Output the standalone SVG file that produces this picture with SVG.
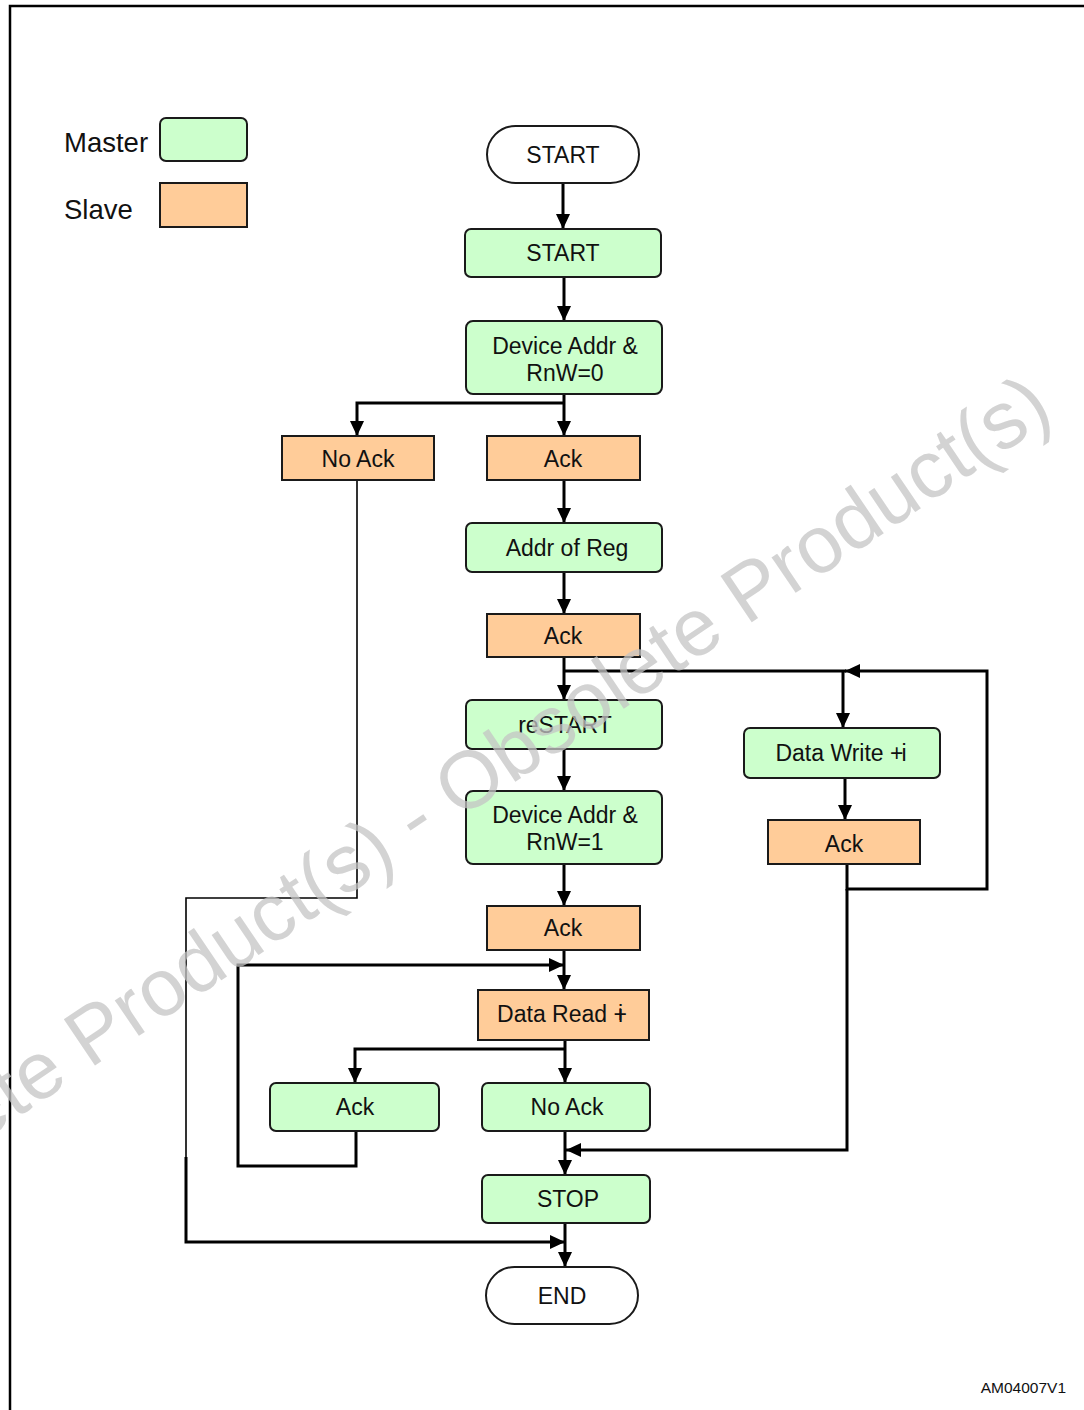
<svg xmlns="http://www.w3.org/2000/svg" width="1084" height="1410" viewBox="0 0 1084 1410">
<defs>
<marker id="ah" markerUnits="userSpaceOnUse" markerWidth="16" markerHeight="14" refX="15" refY="7" orient="auto">
<path d="M0,0 L15,7 L0,14 z" fill="#000"/>
</marker>
<style>
.m{fill:#ccffcc;stroke:#1a1a1a;stroke-width:2}
.s{fill:#ffcc99;stroke:#1a1a1a;stroke-width:2}
.t{fill:#fff;stroke:#1a1a1a;stroke-width:2}
.lbl{font-family:"Liberation Sans",Arial,sans-serif;font-size:23px;fill:#111;text-anchor:middle}
.leg{font-family:"Liberation Sans",Arial,sans-serif;font-size:27.5px;fill:#111}
.c{fill:none;stroke:#000;stroke-width:3}
.ca{fill:none;stroke:#000;stroke-width:3;marker-end:url(#ah)}
.thin{fill:none;stroke:#000;stroke-width:1.6}
</style>
</defs>
<rect x="0" y="0" width="1084" height="1410" fill="#fff"/>
<path d="M10,1410 V6 H1084" fill="none" stroke="#000" stroke-width="2.5"/>

<g id="legend">
<text class="leg" x="64" y="152">Master</text>
<rect class="m" x="160" y="118" width="87" height="43" rx="6"/>
<text class="leg" x="64" y="219">Slave</text>
<rect class="s" x="160" y="183" width="87" height="44"/>
</g>

<g id="connectors">
<path class="ca" d="M563,183 V229"/>
<path class="ca" d="M564,277 V321"/>
<path class="ca" d="M564,394 V436"/>
<path class="ca" d="M564,403 H357 V436"/>
<path class="ca" d="M564,480 V523"/>
<path class="ca" d="M564,572 V614"/>
<path class="ca" d="M564,657 V700"/>
<path class="c" d="M846,671 H564"/>
<path class="ca" d="M847,864 V889 H987 V671 H845"/>
<path class="ca" d="M843,671 V728"/>
<path class="ca" d="M845,778 V820"/>
<path class="ca" d="M564,749 V791"/>
<path class="ca" d="M564,864 V906"/>
<path class="ca" d="M564,950 V990"/>
<path class="ca" d="M356,1131 V1166 H238 V965 H564"/>
<path class="ca" d="M565,1040 V1083"/>
<path class="ca" d="M565,1049 H355 V1083"/>
<path class="ca" d="M565,1131 V1175"/>
<path class="ca" d="M847,889 V1150 H566"/>
<path class="ca" d="M565,1223 V1267"/>
<path class="thin" d="M357,480 V898 H186 V1157"/>
<path class="ca" d="M186,1157 V1242 H565"/>
</g>

<g id="n-start-term"><rect class="t" x="487" y="126" width="152" height="57" rx="28.5"/><text class="lbl" x="563" y="163">START</text></g>
<g id="n-start"><rect class="m" x="465" y="229" width="196" height="48" rx="6"/><text class="lbl" x="563" y="261">START</text></g>
<g id="n-devaddr0"><rect class="m" x="466" y="321" width="196" height="73" rx="7"/><text class="lbl" x="565" y="354">Device Addr &amp;</text><text class="lbl" x="565" y="381">RnW=0</text></g>
<g id="n-noack1"><rect class="s" x="282" y="436" width="152" height="44"/><text class="lbl" x="358" y="467">No Ack</text></g>
<g id="n-ack1"><rect class="s" x="487" y="436" width="153" height="44"/><text class="lbl" x="563" y="467">Ack</text></g>
<g id="n-addrreg"><rect class="m" x="466" y="523" width="196" height="49" rx="6"/><text class="lbl" x="567" y="556">Addr of Reg</text></g>
<g id="n-ack2"><rect class="s" x="487" y="614" width="153" height="43"/><text class="lbl" x="563" y="644">Ack</text></g>
<g id="n-restart"><rect class="m" x="466" y="700" width="196" height="49" rx="6"/><text class="lbl" x="565" y="733">reSTART</text></g>
<g id="n-datawrite"><rect class="m" x="744" y="728" width="196" height="50" rx="6"/><text class="lbl" x="841" y="761">Data Write +<tspan dx="-2">i</tspan></text></g>
<g id="n-ack-w"><rect class="s" x="768" y="820" width="152" height="44"/><text class="lbl" x="844" y="852">Ack</text></g>
<g id="n-devaddr1"><rect class="m" x="466" y="791" width="196" height="73" rx="7"/><text class="lbl" x="565" y="823">Device Addr &amp;</text><text class="lbl" x="565" y="850">RnW=1</text></g>
<g id="n-ack3"><rect class="s" x="487" y="906" width="153" height="44"/><text class="lbl" x="563" y="936">Ack</text></g>
<g id="n-dataread"><rect class="s" x="478" y="990" width="171" height="50"/><text class="lbl" x="562" y="1022">Data Read +<tspan dx="-9">i</tspan></text></g>
<g id="n-ack-m"><rect class="m" x="270" y="1083" width="169" height="48" rx="6"/><text class="lbl" x="355" y="1115">Ack</text></g>
<g id="n-noack-m"><rect class="m" x="482" y="1083" width="168" height="48" rx="6"/><text class="lbl" x="567" y="1115">No Ack</text></g>
<g id="n-stop"><rect class="m" x="482" y="1175" width="168" height="48" rx="6"/><text class="lbl" x="568" y="1207">STOP</text></g>
<g id="n-end"><rect class="t" x="486" y="1267" width="152" height="57" rx="28.5"/><text class="lbl" x="562" y="1304">END</text></g>

<text x="1066" y="1393" font-family="'Liberation Sans',Arial,sans-serif" font-size="15.5" fill="#111" text-anchor="end">AM04007V1</text>

<text transform="translate(-198,1263) rotate(-34)" font-family="'Liberation Sans',Arial,sans-serif" font-size="81" fill="#c4c4c4" fill-opacity="0.75">Obsolete Product(s) - Obsolete Product(s)</text>
</svg>
